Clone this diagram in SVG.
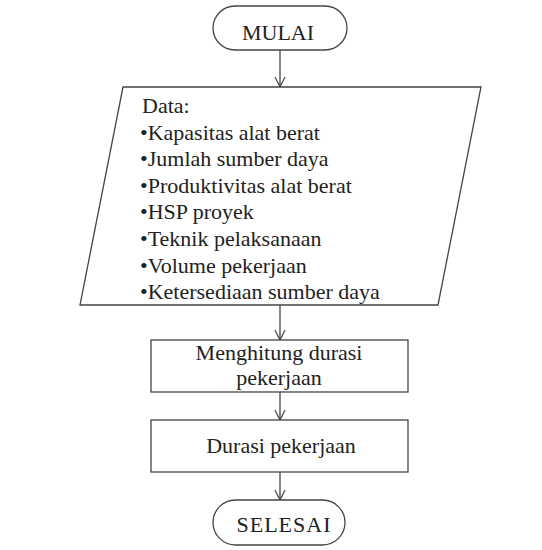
<svg xmlns="http://www.w3.org/2000/svg" width="542" height="550" viewBox="0 0 542 550">
<defs>
<marker id="arr" viewBox="0 0 12 12" refX="11" refY="6" markerWidth="12" markerHeight="12" markerUnits="userSpaceOnUse" orient="auto">
<path d="M1,1 L11,6 L1,11" fill="none" stroke="#444" stroke-width="1.2"/>
</marker>
<style>
.shape{fill:#fff;stroke:#444;stroke-width:1.3}
.conn{stroke:#444;stroke-width:1.3;fill:none;marker-end:url(#arr)}
text{font-family:'Liberation Serif',serif !important;font-size:22px;fill:#222}
</style>
</defs>
<rect width="542" height="550" fill="#fff"/>
<g id="connectors">
<line class="conn" x1="280" y1="50" x2="280" y2="87"/>
<line class="conn" x1="280" y1="305" x2="280" y2="340"/>
<line class="conn" x1="280" y1="392" x2="280" y2="420"/>
<line class="conn" x1="280" y1="472" x2="280" y2="500"/>
</g>
<g id="mulai">
<rect class="shape" x="213" y="6" width="134" height="44" rx="22"/>
<text x="278" y="40" style="font-family:'Liberation Serif',serif" text-anchor="middle">MULAI</text>
</g>
<g id="data">
<polygon class="shape" points="123,87 481,87 438,305 80,305"/>
<text x="142" y="113" style="font-family:'Liberation Serif',serif">Data:</text>
<text x="140" y="139.6" style="font-family:'Liberation Serif',serif">•Kapasitas alat berat</text>
<text x="140" y="166.2" style="font-family:'Liberation Serif',serif">•Jumlah sumber daya</text>
<text x="140" y="192.8" style="font-family:'Liberation Serif',serif">•Produktivitas alat berat</text>
<text x="140" y="219.4" style="font-family:'Liberation Serif',serif">•HSP proyek</text>
<text x="140" y="246" style="font-family:'Liberation Serif',serif">•Teknik pelaksanaan</text>
<text x="140" y="272.6" style="font-family:'Liberation Serif',serif">•Volume pekerjaan</text>
<text x="140" y="299.2" style="font-family:'Liberation Serif',serif">•Ketersediaan sumber daya</text>
</g>
<g id="hitung">
<rect class="shape" x="151" y="340" width="257" height="52"/>
<text x="279" y="360" style="font-family:'Liberation Serif',serif" text-anchor="middle">Menghitung durasi</text>
<text x="279" y="385" style="font-family:'Liberation Serif',serif" text-anchor="middle">pekerjaan</text>
</g>
<g id="durasi">
<rect class="shape" x="151" y="420" width="257" height="52"/>
<text x="281" y="453" style="font-family:'Liberation Serif',serif" text-anchor="middle">Durasi pekerjaan</text>
</g>
<g id="selesai">
<rect class="shape" x="213" y="500" width="132" height="45" rx="22.5"/>
<text x="284" y="532" style="font-family:'Liberation Serif',serif" text-anchor="middle" letter-spacing="1">SELESAI</text>
</g>
</svg>
